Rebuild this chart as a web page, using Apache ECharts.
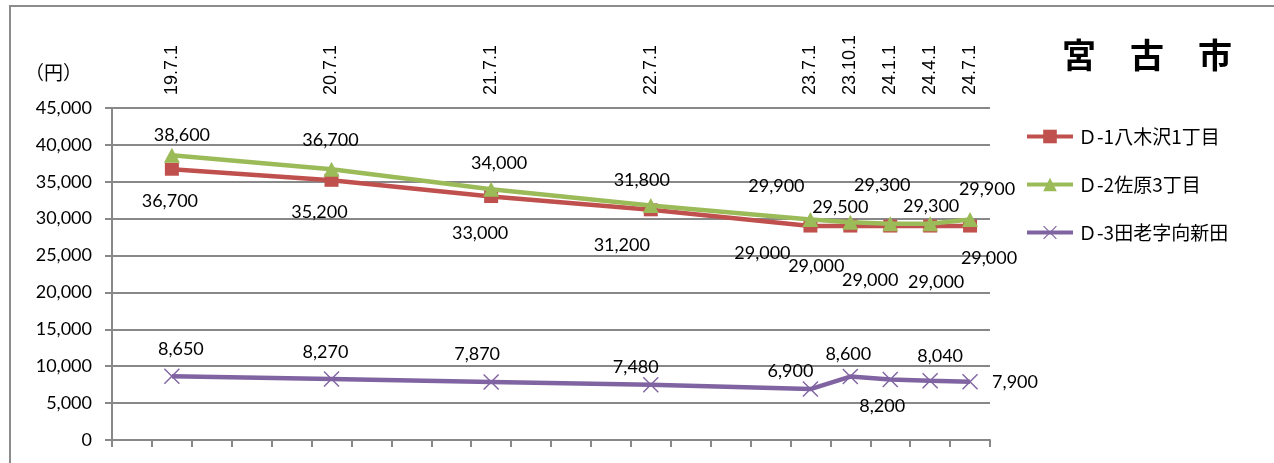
<!DOCTYPE html>
<html>
<head>
<meta charset="utf-8">
<title>宮古市</title>
<script src="https://cdn.jsdelivr.net/npm/echarts@6/dist/echarts.min.js"></script>
<style>
  html, body { margin: 0; padding: 0; background: #fff; }
  #chart { width: 1274px; height: 463px; }
</style>
</head>
<body>
<div id="chart"></div>
<script>
// Survey dates (Japanese era year.month.day) and land prices in yen
const dates = ['19.7.1', '20.7.1', '21.7.1', '22.7.1', '23.7.1', '23.10.1', '24.1.1', '24.4.1', '24.7.1'];
const seriesNames = ['Ｄ-1八木沢1丁目', 'Ｄ-2佐原3丁目', 'Ｄ-3田老字向新田'];
const yagisawa = [36700, 35200, 33000, 31200, 29000, 29000, 29000, 29000, 29000];
const sahara = [38600, 36700, 34000, 31800, 29900, 29500, 29300, 29300, 29900];
const taro = [8650, 8270, 7870, 7480, 6900, 8600, 8200, 8040, 7900];
const yTicks = { min: 0, max: 45000, interval: 5000 };

// Label offsets (px, relative to each point) so the value labels sit clear of the lines
const offsetsYagisawa = [[-2, 32], [-12, 32], [-11, 37], [-29, 35], [-48, 27], [-34, 40], [-20, 54], [6, 56], [19, 32]];
const offsetsSahara = [[10, -20], [-1, -29], [8, -26], [-9, -25], [-34, -33], [-10, -15], [-8, -39], [1, -18], [17, -30]];
const offsetsTaro = [[9, -27], [-6, -27], [-14, -28], [-15, -18], [-20, -18], [-2, -22], [-8, 27], [10, -24], [45, 0]];

// Quarterly category axis, one slot per quarter from 19.4.1 to 24.7.1
const quarters = [];
for (let y = 19, m = 4; y < 24 || (y === 24 && m <= 7); m += 3) {
  if (m > 12) { m -= 12; y += 1; }
  quarters.push(y + '.' + m + '.1');
}

function toQuarterData(values, offsets) {
  const out = quarters.map(() => null);
  dates.forEach((d, i) => {
    out[quarters.indexOf(d)] = { value: values[i], label: { offset: offsets[i] } };
  });
  return out;
}

const FONT = 'Lato, "Liberation Sans", sans-serif';
const CJK = '"Noto Sans CJK JP", "Noto Sans", sans-serif';
const GRID_COLOR = '#888888';
const crossPath = 'path://M0,1L1,0L8,7L15,0L16,1L9,8L16,15L15,16L8,9L1,16L0,15L7,8Z';

const chart = echarts.init(document.getElementById('chart'), null, { renderer: 'canvas' });

const valueLabel = {
  show: true,
  position: 'inside',
  color: '#000',
  fontFamily: FONT,
  fontSize: 18,
  formatter: p => p.value == null ? '' : Number(p.value).toLocaleString('en-US')
};

chart.setOption({
  animation: false,
  backgroundColor: '#fff',
  graphic: [
    {
      type: 'rect',
      shape: { x: 10, y: 6, width: 1300, height: 500 },
      style: { fill: 'none', stroke: '#8c8c8c', lineWidth: 2 },
      silent: true
    },
    {
      type: 'text',
      left: 25, top: 63,
      style: { text: '（円）', font: '19px ' + CJK, fill: '#000' }
    },
    {
      type: 'text',
      left: 1062, top: 38,
      style: { text: '宮　古　市', font: 'bold 34px ' + CJK, fill: '#000' }
    }
  ],
  grid: { left: 112, right: 284, top: 108, bottom: 23 },
  legend: {
    orient: 'vertical',
    left: 1020,
    top: 122,
    padding: 5,
    itemWidth: 46,
    itemHeight: 17,
    itemGap: 29,
    lineStyle: { width: 4 },
    textStyle: { fontFamily: CJK, fontSize: 19, color: '#000' },
    data: seriesNames
  },
  xAxis: [
    {
      type: 'category',
      data: quarters,
      boundaryGap: true,
      position: 'bottom',
      axisLine: { lineStyle: { color: GRID_COLOR, width: 2 } },
      axisTick: { show: true, length: 7, interval: 0, lineStyle: { color: GRID_COLOR, width: 2 } },
      axisLabel: { show: false },
      splitLine: { show: false }
    },
    {
      type: 'category',
      data: quarters,
      boundaryGap: true,
      position: 'top',
      axisLine: { show: false },
      axisTick: { show: false },
      axisLabel: {
        interval: 0,
        rotate: -90,
        margin: 13,
        fontFamily: '"Liberation Sans", Arial, sans-serif',
        fontSize: 18,
        color: '#000',
        formatter: v => dates.includes(v) ? v : ''
      }
    }
  ],
  yAxis: {
    type: 'value',
    min: yTicks.min,
    max: yTicks.max,
    interval: yTicks.interval,
    axisLine: { show: true, lineStyle: { color: GRID_COLOR, width: 2 } },
    axisTick: { show: true, length: 7, lineStyle: { color: GRID_COLOR, width: 2 } },
    axisLabel: {
      fontFamily: FONT,
      fontSize: 18,
      color: '#000',
      margin: 20,
      formatter: v => v.toLocaleString('en-US')
    },
    splitLine: { lineStyle: { color: GRID_COLOR, width: 2 } }
  },
  series: [
    {
      name: seriesNames[0],
      type: 'line',
      connectNulls: true,
      data: toQuarterData(yagisawa, offsetsYagisawa),
      symbol: 'rect',
      symbolSize: [14, 13],
      lineStyle: { color: '#C0504D', width: 4.5 },
      itemStyle: { color: '#C0504D' },
      label: valueLabel,
      z: 3
    },
    {
      name: seriesNames[1],
      type: 'line',
      connectNulls: true,
      data: toQuarterData(sahara, offsetsSahara),
      symbol: 'triangle',
      symbolSize: [16, 15],
      lineStyle: { color: '#9BBB59', width: 4.5 },
      itemStyle: { color: '#9BBB59' },
      label: valueLabel,
      z: 4
    },
    {
      name: seriesNames[2],
      type: 'line',
      connectNulls: true,
      data: toQuarterData(taro, offsetsTaro),
      symbol: crossPath,
      symbolSize: 16,
      lineStyle: { color: '#8064A2', width: 4.5 },
      itemStyle: { color: '#8064A2' },
      label: valueLabel,
      z: 3
    }
  ]
});
</script>
</body>
</html>
